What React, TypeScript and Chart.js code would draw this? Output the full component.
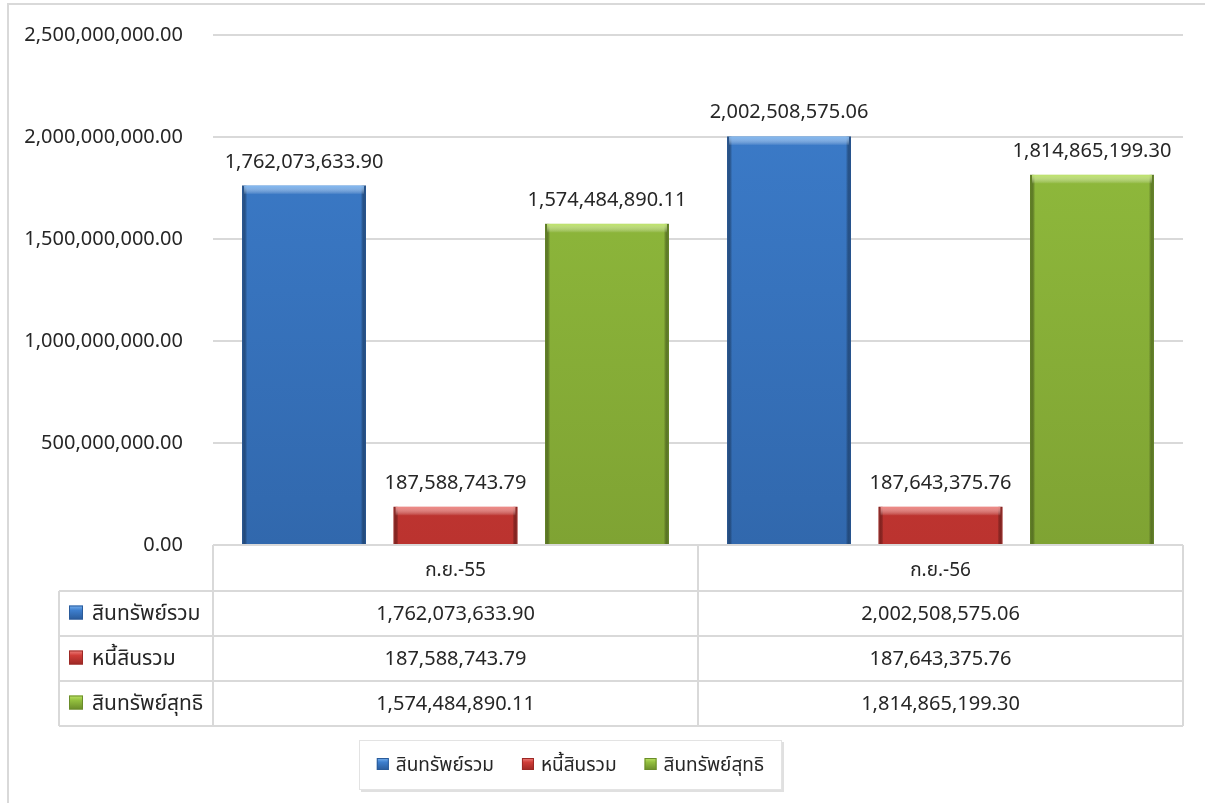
import React, { useEffect, useRef } from "react";
import { Chart, registerables } from "chart.js";

Chart.register(...registerables);

const categories = ["ก.ย.-55", "ก.ย.-56"];
const seriesNames = ["สินทรัพย์รวม", "หนี้สินรวม", "สินทรัพย์สุทธิ"];
const totalAssets = [1762073633.9, 2002508575.06];
const totalLiabilities = [187588743.79, 187643375.76];
const netAssets = [1574484890.11, 1814865199.3];
const yTicks = [0, 500000000, 1000000000, 1500000000, 2000000000, 2500000000];

const seriesValues = [totalAssets, totalLiabilities, netAssets];
const mainColors = ["#3d7ecd", "#d03d38", "#93bf3e"];
const bottomColors = ["#3168ad", "#bb332f", "#7fa333"];
const lightColors = ["#79b3f0", "#f08480", "#bde466"];
const darkColors = ["#2a5b9a", "#9c2824", "#6a8c2a"];

const FONT = "'Noto Sans', 'Noto Sans Thai', 'Liberation Sans', 'DejaVu Sans', sans-serif";
const TEXT = "#262626";
const LINE = "#d9d9d9";

const fmt = (v: number) =>
  v.toLocaleString("en-US", { minimumFractionDigits: 2, maximumFractionDigits: 2 });

function drawMarker(ctx: CanvasRenderingContext2D, x: number, y: number, s: number, i: number) {
  const g = ctx.createLinearGradient(x, y, x, y + s);
  g.addColorStop(0, lightColors[i]);
  g.addColorStop(0.35, mainColors[i]);
  g.addColorStop(1, darkColors[i]);
  ctx.fillStyle = g;
  ctx.fillRect(x, y, s, s);
  ctx.strokeStyle = darkColors[i];
  ctx.lineWidth = 1;
  ctx.strokeRect(x + 0.5, y + 0.5, s - 1, s - 1);
}

const decorPlugin = {
  id: "decor",
  beforeDraw(chart: any) {
    const ctx = chart.ctx;
    ctx.save();
    ctx.fillStyle = "#ffffff";
    ctx.fillRect(0, 0, chart.width, chart.height);
    ctx.strokeStyle = LINE;
    ctx.lineWidth = 2;
    ctx.strokeRect(8, 4, chart.width + 20, chart.height + 20);
    ctx.restore();
  },
  afterDatasetsDraw(chart: any) {
    const ctx = chart.ctx;
    ctx.save();
    chart.data.datasets.forEach((ds: any, di: number) => {
      const meta = chart.getDatasetMeta(di);
      meta.data.forEach((bar: any, i: number) => {
        const left = bar.x - bar.width / 2;
        const right = bar.x + bar.width / 2;
        const top = bar.y;
        const bottom = bar.base;
        const gl = ctx.createLinearGradient(left, 0, left + 5, 0);
        gl.addColorStop(0, darkColors[di]);
        gl.addColorStop(1, "rgba(0,0,0,0)");
        ctx.fillStyle = gl;
        ctx.fillRect(left, top, 5, bottom - top);
        const gr = ctx.createLinearGradient(right - 5, 0, right, 0);
        gr.addColorStop(0, "rgba(0,0,0,0)");
        gr.addColorStop(1, darkColors[di]);
        ctx.fillStyle = gr;
        ctx.fillRect(right - 5, top, 5, bottom - top);
        const gt = ctx.createLinearGradient(0, top, 0, top + 9);
        gt.addColorStop(0, lightColors[di]);
        gt.addColorStop(1, "rgba(255,255,255,0)");
        ctx.fillStyle = gt;
        ctx.fillRect(left + 2, top, bar.width - 4, 9);
        ctx.fillStyle = TEXT;
        ctx.font = `20px ${FONT}`;
        ctx.textAlign = "center";
        ctx.textBaseline = "alphabetic";
        ctx.fillText(fmt(ds.data[i]), bar.x, top - 18);
      });
    });
    ctx.restore();
  },
  afterDraw(chart: any) {
    const ctx = chart.ctx;
    const xs = chart.scales.x;
    const area = chart.chartArea;
    const catW = (area.right - area.left) / categories.length;
    const headTop = area.bottom;
    const headBottom = headTop + 46;
    const rowH = 45;
    const tableLeft = 59;
    const tableBottom = headBottom + rowH * seriesNames.length;
    ctx.save();
    ctx.strokeStyle = LINE;
    ctx.lineWidth = 2;
    ctx.beginPath();
    ctx.moveTo(area.left, headTop);
    ctx.lineTo(area.left, tableBottom);
    for (let c = 1; c <= categories.length; c++) {
      const xb = area.left + catW * c;
      ctx.moveTo(xb, headTop);
      ctx.lineTo(xb, tableBottom);
    }
    ctx.moveTo(area.left, headTop);
    ctx.lineTo(area.right, headTop);
    for (let r = 0; r <= seriesNames.length; r++) {
      const y = headBottom + rowH * r;
      ctx.moveTo(tableLeft, y);
      ctx.lineTo(area.right, y);
    }
    ctx.moveTo(tableLeft, headBottom);
    ctx.lineTo(tableLeft, tableBottom);
    ctx.stroke();

    ctx.fillStyle = TEXT;
    ctx.textBaseline = "middle";
    ctx.textAlign = "center";
    ctx.font = `19px ${FONT}`;
    categories.forEach((c, i) => {
      ctx.fillText(c, xs.getPixelForValue(i), (headTop + headBottom) / 2 + 3);
    });
    seriesNames.forEach((name, r) => {
      const cy = headBottom + rowH * r + rowH / 2;
      drawMarker(ctx, 69, cy - 8, 14, r);
      ctx.fillStyle = TEXT;
      ctx.textAlign = "left";
      ctx.font = `21px ${FONT}`;
      ctx.fillText(name, 92, cy + 1);
      ctx.textAlign = "center";
      ctx.font = `20px ${FONT}`;
      seriesValues[r].forEach((v, i) => {
        ctx.fillText(fmt(v), xs.getPixelForValue(i), cy + 1);
      });
    });

    ctx.font = `19px ${FONT}`;
    const widths = seriesNames.map((n) => ctx.measureText(n).width);
    const itemGap = 28;
    const markerW = 12 + 7;
    const total = widths.reduce((a, b) => a + b + markerW, 0) + itemGap * (seriesNames.length - 1);
    const lx0 = 359, lx1 = 782, ly0 = 740, ly1 = 790;
    ctx.fillStyle = "rgba(0,0,0,0.12)";
    ctx.fillRect(lx0 + 2, ly0 + 2, lx1 - lx0, ly1 - ly0);
    ctx.fillStyle = "#ffffff";
    ctx.fillRect(lx0, ly0, lx1 - lx0, ly1 - ly0);
    ctx.strokeStyle = "#e3e3e3";
    ctx.lineWidth = 1;
    ctx.strokeRect(lx0 + 0.5, ly0 + 0.5, lx1 - lx0 - 1, ly1 - ly0 - 1);
    let x = (lx0 + lx1) / 2 - total / 2;
    const ly = (ly0 + ly1) / 2;
    seriesNames.forEach((n, i) => {
      drawMarker(ctx, x, ly - 7, 12, i);
      x += markerW;
      ctx.fillStyle = TEXT;
      ctx.textAlign = "left";
      ctx.textBaseline = "middle";
      ctx.fillText(n, x, ly + 1);
      x += widths[i] + itemGap;
    });
    ctx.restore();
  },
};

export default function App() {
  const ref = useRef<HTMLCanvasElement | null>(null);
  useEffect(() => {
    if (!ref.current) return;
    const chart = new Chart(ref.current, {
      type: "bar",
      data: {
        labels: categories,
        datasets: seriesNames.map((name, i) => ({
          label: name,
          data: seriesValues[i],
          backgroundColor: (c: any) => {
            const a = c.chart.chartArea;
            if (!a) return mainColors[i];
            const g = c.chart.ctx.createLinearGradient(0, a.top, 0, a.bottom);
            g.addColorStop(0, mainColors[i]);
            g.addColorStop(1, bottomColors[i]);
            return g;
          },
          borderColor: darkColors[i],
          borderWidth: 1,
          categoryPercentage: 0.937,
          barPercentage: 0.818,
        })),
      },
      options: {
        animation: false,
        responsive: true,
        maintainAspectRatio: false,
        layout: { padding: { top: 35, right: 22, bottom: 258, left: 0 } },
        plugins: { legend: { display: false }, tooltip: { enabled: false } },
        scales: {
          x: {
            display: false,
          },
          y: {
            min: 0,
            max: 2500000000,
            afterFit: (s: any) => {
              s.width = 213;
              s.paddingTop = 12;
              s.paddingBottom = 12;
            },
            afterBuildTicks: (s: any) => {
              s.ticks = yTicks.map((v) => ({ value: v }));
            },
            border: { display: false },
            grid: { color: LINE, lineWidth: 2, drawTicks: false },
            ticks: {
              padding: 30,
              color: TEXT,
              font: { family: FONT, size: 20 },
              callback: (v: any) => fmt(Number(v)),
            },
          },
        },
      },
      plugins: [decorPlugin],
    });
    return () => chart.destroy();
  }, []);
  return (
    <div style={{ position: "absolute", left: 0, top: 0, width: 1205, height: 803 }}>
      <canvas ref={ref} />
    </div>
  );
}
